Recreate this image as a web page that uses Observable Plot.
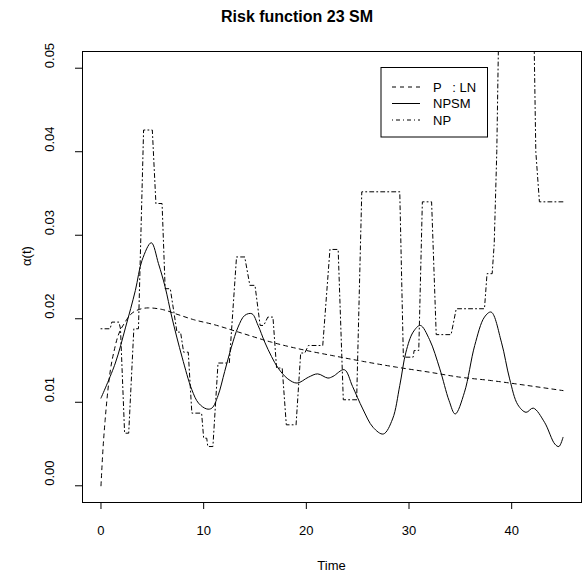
<!DOCTYPE html>
<html><head><meta charset="utf-8">
<script src="https://cdn.jsdelivr.net/npm/d3@7"></script>
<script src="https://cdn.jsdelivr.net/npm/@observablehq/plot@0.6"></script>
<style>body{margin:0;background:#fff}</style>
</head><body><div id="chart"></div>
<script>
const title = "Risk function 23 SM";
const xLabel = "Time";
const yLabel = "α(t)";
const xTicks = [0, 10, 20, 30, 40];
const yTicks = [0, 0.01, 0.02, 0.03, 0.04, 0.05];
const yTickLabels = ["0.00", "0.01", "0.02", "0.03", "0.04", "0.05"];
const seriesNames = ["P   : LN", "NPSM", "NP"];

// Parametric lognormal hazard (dashed)
const lnT = [0, 0.2, 0.4, 0.75, 1.4, 2.4, 3.3, 4.6, 6.0, 7.5, 9.0, 11.0, 13.4, 16.6, 20.0, 22.5, 25.5, 28.8, 32.0, 35.0, 38.0, 41.0, 45.0];
const lnV = [0.0, 0.0045, 0.0078, 0.0123, 0.0168, 0.0197, 0.0209, 0.0213, 0.0211, 0.0205, 0.0199, 0.0193, 0.0184, 0.0172, 0.0162, 0.0156, 0.0149, 0.0142, 0.0136, 0.0130, 0.0126, 0.0121, 0.0114];

// Smoothed nonparametric (solid)
const npsmT = [0, 1.4, 2.4, 3.35, 4.0, 4.9, 5.6, 6.25, 6.9, 7.9, 8.85, 9.5, 10.3, 10.8, 11.4, 12.05, 12.7, 13.35, 14.0, 14.7, 15.3, 15.95, 16.6, 17.25, 18.2, 19.1, 20.2, 21.1, 22.1, 22.6, 23.7, 24.5, 25.5, 26.5, 27.5, 28.4, 29.1, 29.7, 30.4, 31.1, 32.0, 33.0, 33.9, 34.5, 35.4, 36.4, 37.35, 38.0, 39.0, 39.8, 40.6, 41.4, 42.1, 43.2, 44.2, 44.6, 45.0];
const npsmV = [0.0105, 0.0147, 0.0190, 0.0234, 0.0270, 0.0291, 0.0266, 0.0238, 0.0202, 0.0154, 0.0115, 0.0099, 0.0092, 0.0093, 0.0108, 0.0137, 0.0166, 0.0190, 0.0204, 0.0206, 0.0192, 0.0172, 0.0155, 0.0141, 0.0128, 0.0123, 0.0130, 0.0134, 0.0129, 0.0131, 0.0139, 0.0119, 0.0092, 0.0070, 0.0062, 0.0080, 0.0120, 0.0160, 0.0184, 0.0192, 0.0175, 0.0140, 0.0102, 0.0086, 0.0112, 0.0168, 0.0202, 0.0208, 0.0172, 0.0128, 0.0097, 0.0088, 0.0093, 0.0076, 0.0050, 0.0047, 0.0058];

// Nonparametric step estimate (dot-dash)
const npT = [0, 0.9, 1.05, 1.75, 1.9, 2.3, 2.7, 3.2, 3.65, 4.15, 5.0, 5.35, 5.95, 6.25, 6.75, 7.4, 7.75, 8.05, 8.5, 8.85, 9.8, 10.0, 10.3, 10.4, 10.9, 11.4, 12.5, 13.2, 14.0, 14.5, 15.0, 15.5, 15.85, 16.25, 16.75, 17.1, 17.65, 18.05, 19.0, 19.45, 19.85, 20.2, 21.6, 22.3, 23.1, 23.6, 24.9, 25.4, 29.1, 29.45, 30.4, 30.5, 30.95, 31.3, 32.2, 32.65, 34.1, 34.6, 37.35, 37.6, 38.1, 38.3, 38.55, 38.8, 42.1, 42.35, 42.7, 45.0];
const npV = [0.0188, 0.0188, 0.0196, 0.0196, 0.0188, 0.0063, 0.0063, 0.0188, 0.0188, 0.0426, 0.0426, 0.0338, 0.0338, 0.0236, 0.0236, 0.0184, 0.0184, 0.0160, 0.0160, 0.0087, 0.0087, 0.0057, 0.0057, 0.0047, 0.0047, 0.0147, 0.0147, 0.0274, 0.0274, 0.0240, 0.0240, 0.0192, 0.0192, 0.0202, 0.0202, 0.0141, 0.0141, 0.0073, 0.0073, 0.0159, 0.0159, 0.0168, 0.0168, 0.0283, 0.0283, 0.0103, 0.0103, 0.0352, 0.0352, 0.0154, 0.0154, 0.0162, 0.0162, 0.0340, 0.0340, 0.0181, 0.0181, 0.0212, 0.0212, 0.0254, 0.0254, 0.0290, 0.0400, 0.0600, 0.0600, 0.0400, 0.0340, 0.0340];

const font = "'Liberation Sans', Arial, Helvetica, sans-serif";
const toRows = (ts, vs) => ts.map((t, i) => ({t, v: vs[i]}));

const chart = Plot.plot({
  width: 587, height: 578,
  marginTop: 51, marginBottom: 76, marginLeft: 82, marginRight: 6,
  style: {fontFamily: font, fontSize: "13px", background: "#fff", color: "#000"},
  x: {domain: [-1.8, 46.8]},
  y: {domain: [-0.002, 0.052]},
  marks: [
    Plot.line(toRows(lnT, lnV), {x: "t", y: "v", stroke: "#000", strokeWidth: 1, strokeDasharray: "4,4", curve: "monotone-x", clip: true}),
    Plot.line(toRows(npsmT, npsmV), {x: "t", y: "v", stroke: "#000", strokeWidth: 1, curve: "catmull-rom", clip: true}),
    Plot.line(toRows(npT, npV), {x: "t", y: "v", stroke: "#000", strokeWidth: 1, strokeDasharray: "1,3,4,3", clip: true}),
    Plot.axisX({ticks: xTicks, tickSize: 7, tickPadding: 16, tickFormat: d => String(d), label: null, fontSize: 13}),
    Plot.axisY({ticks: yTicks, tickSize: 7, tickFormat: () => "", label: null}),
    Plot.text(yTicks, {y: d => d, text: (d, i) => yTickLabels[i], frameAnchor: "left", dx: -33, rotate: -90, fontSize: 13, fill: "#000"}),
    Plot.frame({stroke: "#000"})
  ]
});
document.getElementById("chart").appendChild(chart);

const svg = d3.select(chart);
svg.append("text").attr("x", 297).attr("y", 22).attr("text-anchor", "middle")
  .attr("font-family", font).attr("font-size", 16).attr("font-weight", "bold").attr("fill", "#000").text(title);
svg.append("text").attr("x", 331.5).attr("y", 570).attr("text-anchor", "middle")
  .attr("font-family", font).attr("font-size", 13).attr("fill", "#000").text(xLabel);
svg.append("text").attr("transform", "translate(31,256) rotate(-90)").attr("text-anchor", "middle")
  .attr("font-family", font).attr("font-size", 13).attr("fill", "#000").text(yLabel);

// legend
const lg = svg.append("g");
lg.append("rect").attr("x", 381).attr("y", 67.5).attr("width", 106.5).attr("height", 69.5)
  .attr("fill", "#fff").attr("stroke", "#000");
const dashes = ["4,4", null, "1,3,4,3"];
const ys = [87, 103.5, 120];
seriesNames.forEach((name, i) => {
  const l = lg.append("line").attr("x1", 392).attr("x2", 420).attr("y1", ys[i]).attr("y2", ys[i])
    .attr("stroke", "#000").attr("stroke-width", 1);
  if (dashes[i]) l.attr("stroke-dasharray", dashes[i]);
  lg.append("text").attr("x", 433).attr("y", ys[i] + 4.5).attr("text-anchor", "start")
    .attr("font-family", font).attr("font-size", 13)
    .attr("fill", "#000").attr("xml:space", "preserve").style("white-space", "pre").text(name);
});
</script>
</body></html>
